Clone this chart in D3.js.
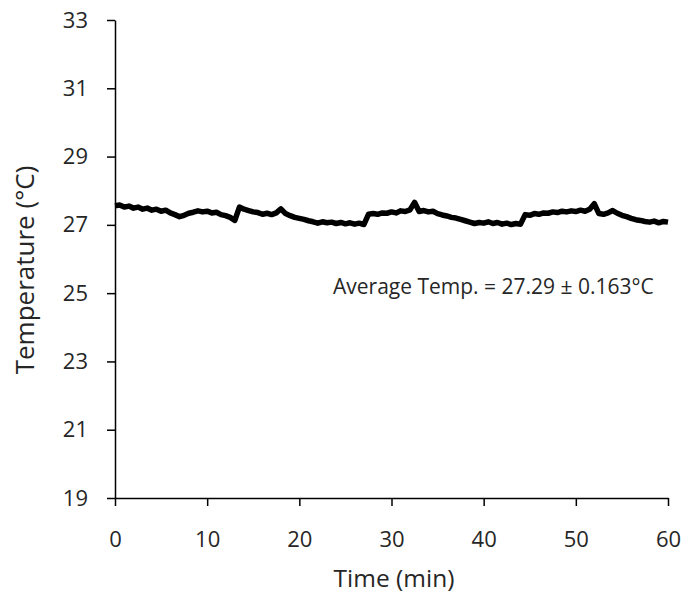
<!DOCTYPE html>
<html>
<head>
<meta charset="utf-8">
<script src="https://cdn.jsdelivr.net/npm/d3@7"></script>
<style>
  body { margin: 0; background: #fff; }
  svg text { font-family: "Open Sans", "Noto Sans", sans-serif; fill: #262626; }
</style>
</head>
<body>
<div id="chart"></div>
<script>
// temperature readings, one every 0.5 min
var temps = [
  27.56, 27.58, 27.52, 27.55, 27.49, 27.52, 27.46, 27.49, 27.43, 27.46,
  27.40, 27.43, 27.35, 27.30, 27.24, 27.28, 27.34, 27.37, 27.41, 27.38,
  27.40, 27.35, 27.37, 27.30, 27.27, 27.22, 27.13, 27.52, 27.46, 27.42,
  27.38, 27.36, 27.31, 27.34, 27.30, 27.35, 27.47, 27.33, 27.27, 27.22,
  27.19, 27.16, 27.12, 27.09, 27.05, 27.09, 27.06, 27.08, 27.04, 27.07,
  27.03, 27.06, 27.02, 27.05, 27.01, 27.31, 27.33, 27.31, 27.35, 27.34,
  27.38, 27.35, 27.41, 27.39, 27.44, 27.66, 27.39, 27.42, 27.38, 27.40,
  27.33, 27.29, 27.26, 27.22, 27.20, 27.16, 27.12, 27.08, 27.04, 27.07,
  27.05, 27.09, 27.04, 27.07, 27.02, 27.05, 27.01, 27.04, 27.02, 27.30,
  27.28, 27.33, 27.31, 27.35, 27.34, 27.38, 27.36, 27.40, 27.38, 27.41,
  27.39, 27.43, 27.40, 27.46, 27.62, 27.33, 27.31, 27.35, 27.42, 27.34,
  27.28, 27.24, 27.19, 27.15, 27.13, 27.10, 27.08, 27.11, 27.06, 27.10,
  27.08
];
var stepMin = 0.5;
var xTicks = [0, 10, 20, 30, 40, 50, 60];
var yTicks = [19, 21, 23, 25, 27, 29, 31, 33];
var note = "Average Temp. = 27.29 \u00b1 0.163\u00b0C";

var width = 684, height = 594;
var margin = {top: 20, right: 16, bottom: 96, left: 115};

var svg = d3.select("#chart").append("svg")
  .attr("width", width).attr("height", height);

var x = d3.scaleLinear().domain([0, 60]).range([margin.left, width - margin.right]);
var y = d3.scaleLinear().domain([19, 33]).range([height - margin.bottom, margin.top]);

var points = temps.map((v, i) => [i * stepMin, v]);

svg.append("g")
  .attr("transform", `translate(${margin.left},0)`)
  .call(d3.axisLeft(y).tickValues(yTicks).tickSize(8).tickPadding(19).tickSizeOuter(0))
  .call(g => g.selectAll("text").attr("font-size", 22))
  .call(g => g.selectAll("line,path").attr("stroke", "#000").attr("stroke-width", 1.5));

svg.append("g")
  .attr("transform", `translate(0,${height - margin.bottom})`)
  .call(d3.axisBottom(x).tickValues(xTicks).tickSize(8).tickPadding(25).tickSizeOuter(0))
  .call(g => g.selectAll("text").attr("font-size", 22))
  .call(g => g.selectAll("line,path").attr("stroke", "#000").attr("stroke-width", 1.5));

svg.append("path")
  .datum(points)
  .attr("fill", "none")
  .attr("stroke", "#000")
  .attr("stroke-width", 5.5)
  .attr("stroke-linejoin", "round")
  .attr("d", d3.line().x(d => x(d[0])).y(d => y(d[1])));

svg.append("text")
  .attr("x", 333).attr("y", 294)
  .attr("font-size", 21)
  .text(note);

svg.append("text")
  .attr("x", 394).attr("y", 587)
  .attr("text-anchor", "middle")
  .attr("font-size", 24.5)
  .text("Time (min)");

svg.append("text")
  .attr("transform", "translate(34,270) rotate(-90)")
  .attr("text-anchor", "middle")
  .attr("font-size", 26)
  .text("Temperature (\u00b0C)");
</script>
</body>
</html>
